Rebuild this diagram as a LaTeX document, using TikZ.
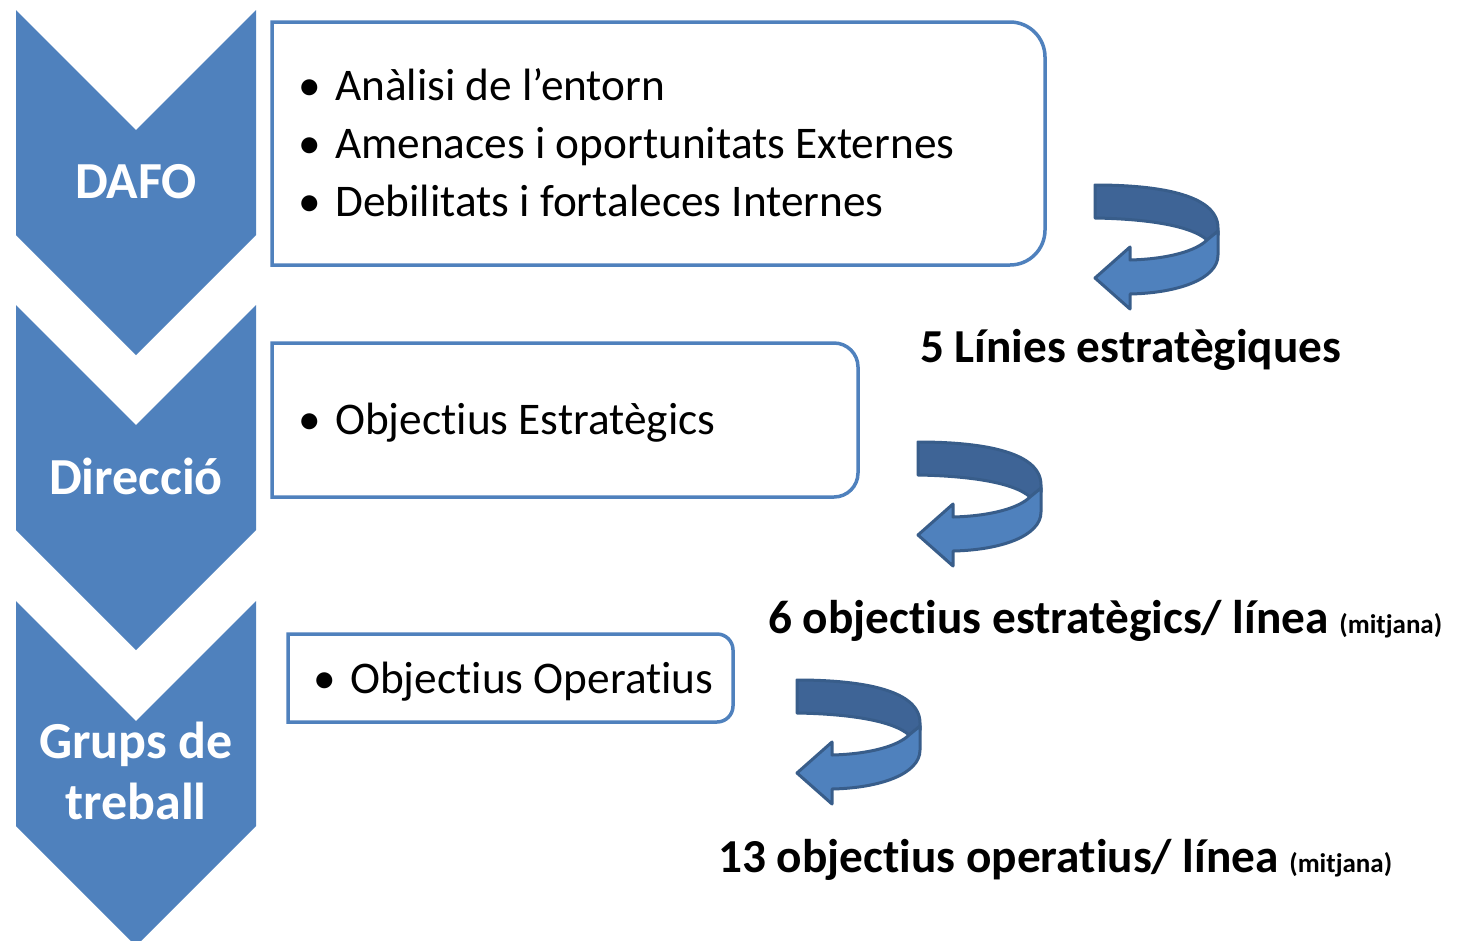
\documentclass[tikz,border=0pt]{standalone}
\usepackage{fontspec}
\setmainfont[Ligatures={NoCommon}]{Carlito}
\definecolor{cblue}{HTML}{4F81BD}
\definecolor{cdark}{HTML}{3E6496}
\definecolor{cline}{HTML}{385D8A}
\tikzset{
  chev/.style={fill=cblue, draw=none},
  boxline/.style={draw=cblue, line width=3.5pt, fill=white},
  chevtext/.style={text=white, font=\fontsize{52}{61}\selectfont\bfseries, anchor=base, inner sep=0pt},
  bodytext/.style={font=\fontsize{45.3}{54}\selectfont, anchor=base west, inner sep=0pt},
  labtext/.style={font=\fontsize{47.3}{56}\selectfont\bfseries, anchor=base west, inner sep=0pt},
  backface/.style={fill=cdark, draw=cline, line width=3pt, line join=round},
  frontface/.style={fill=cblue, draw=cline, line width=3pt, line join=round},
}
\newcommand\bul{\makebox[37pt][l]{•}}
\newcommand\mysmall{\fontsize{27}{30}\selectfont}
\newcommand\uturnarrow[2]{%
  \begin{scope}[shift={(#1,#2)}]
    \draw[backface] (2,2) .. controls (60,2) and (125,10) .. (125,45) -- (125,52) -- (114,57)
      .. controls (100,44) and (60,36) .. (2,35) -- cycle;
    \draw[frontface] (114,57) -- (125,48) -- (125,72) .. controls (125,96) and (85,110) .. (37,111)
      -- (37,126) -- (2,95) -- (37,64) -- (37,77) .. controls (75,76) and (103,68) .. (114,57) -- cycle;
  \end{scope}}
\begin{document}
\begin{tikzpicture}[x=1pt,y=-1pt]
\useasboundingbox (0,0) rectangle (1461,940);
\clip (0,0) rectangle (1461,940);
\fill[white] (0,0) rectangle (1461,940);
% chevrons
\fill[chev] (16,10) -- (136,130) -- (256,10) -- (256,235) -- (136,355) -- (16,235) -- cycle;
\fill[chev] (16,305) -- (136,425) -- (256,305) -- (256,530) -- (136,650) -- (16,530) -- cycle;
\fill[chev] (16,601) -- (136,721) -- (256,601) -- (256,826) -- (136,946) -- (16,826) -- cycle;
\node[chevtext] (dafo) at (136,198) {DAFO};
\node[chevtext] (direccio) at (136,494) {Direcció};
\node[chevtext] (grups1) at (136,758) {Grups de};
\node[chevtext] (grups2) at (136,819) {treball};
% boxes
\draw[boxline] (272,22) -- (1010,22) .. controls (1029.3,22) and (1045,37.7) .. (1045,57)
  -- (1045,230) .. controls (1045,249.3) and (1029.3,265) .. (1010,265) -- (272,265) -- cycle;
\draw[boxline] (272,343) -- (834,343) .. controls (847.2,343) and (858,353.8) .. (858,367)
  -- (858,473) .. controls (858,486.2) and (847.2,497) .. (834,497) -- (272,497) -- cycle;
\draw[boxline] (288,634) -- (717,634) .. controls (725.8,634) and (733,641.2) .. (733,650)
  -- (733,706) .. controls (733,714.8) and (725.8,722) .. (717,722) -- (288,722) -- cycle;
\node[bodytext] (b1) at (298,100) {\bul Anàlisi de l’entorn};
\node[bodytext] (b2) at (298,158) {\bul Amenaces i oportunitats Externes};
\node[bodytext] (b3) at (298,216) {\bul Debilitats i fortaleces Internes};
\node[bodytext] (b4) at (298,434) {\bul Objectius Estratègics};
\node[bodytext] (b5) at (313,693) {\bul Objectius Operatius};
% u-turn arrows
\uturnarrow{1093}{183}
\uturnarrow{916}{440}
\uturnarrow{795}{678}
% labels
\node[labtext] (l1) at (920,362) {5 Línies estratègiques};
\node[labtext] (l2) at (768,633) {6 objectius estratègics/ línea {\mysmall(mitjana)}};
\node[labtext] (l3) at (718,872) {13 objectius operatius/ línea {\mysmall(mitjana)}};
\end{tikzpicture}
\end{document}
